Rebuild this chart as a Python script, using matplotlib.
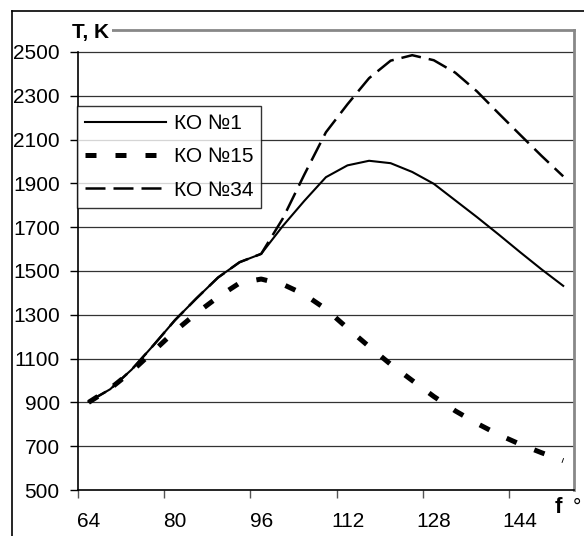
import matplotlib
matplotlib.use("Agg")
import matplotlib.pyplot as plt
import matplotlib.transforms as mtransforms
from matplotlib.lines import Line2D

plt.rcParams["font.family"] = ["Liberation Sans", "DejaVu Sans"]

# angle f, degrees
angle = [66, 70, 74, 78, 82, 86, 90, 94, 98, 102, 106, 110,
         114, 118, 122, 126, 130, 134, 138, 142, 146, 150, 154]

# temperature T, K
t_ko1 = [903, 960, 1050, 1160, 1275, 1375, 1470, 1540, 1578, 1705, 1820, 1928,
         1982, 2003, 1992, 1952, 1898, 1822, 1746, 1667, 1586, 1507, 1432]
t_ko15 = [900, 963, 1042, 1133, 1225, 1307, 1381, 1445, 1463, 1439, 1393, 1326,
          1239, 1155, 1074, 1000, 927, 861, 804, 753, 709, 670, 634]
t_ko34 = [903, 960, 1050, 1160, 1275, 1375, 1470, 1540, 1578, 1739, 1940, 2133,
          2261, 2380, 2460, 2485, 2462, 2405, 2320, 2220, 2122, 2025, 1932]

series_labels = ["КО №1", "КО №15", "КО №34"]
x_ticks = [64, 80, 96, 112, 128, 144]
y_ticks = [500, 700, 900, 1100, 1300, 1500, 1700, 1900, 2100, 2300, 2500]

W, H = 584, 536
fig = plt.figure(figsize=(W / 100, H / 100), dpi=100)
ax = fig.add_axes([77.8 / W, 1 - 490 / H, (574 - 77.8) / W, (490 - 30) / H])

for y in y_ticks[1:]:
    ax.axhline(y, color="#333333", lw=0.9, zorder=1)

ax.plot(angle, t_ko1, color="black", lw=1.5, solid_joinstyle="miter",
        label=series_labels[0], zorder=3)
ax.plot(angle, t_ko15, color="black", lw=3.6, dashes=(2.2, 3.8),
        dash_capstyle="butt", label=series_labels[1], zorder=4)
ax.plot(angle, t_ko34, color="black", lw=1.8, dashes=(8, 3.2),
        dash_capstyle="butt", label=series_labels[2], zorder=3)

ax.set_xlim(64, 156)
ax.set_ylim(500, 2600)
ax.set_xticks(x_ticks)
ax.set_yticks(y_ticks)
ax.tick_params(axis="both", direction="out", length=6, width=1, colors="black",
               labelsize=15)
ax.tick_params(axis="x", pad=10, color="#555555")
ax.tick_params(axis="y", pad=7)

# x labels sit a little right of their ticks, as in the original
shift = mtransforms.ScaledTranslation(11 / 100, 0, fig.dpi_scale_trans)
for lab in ax.get_xticklabels():
    lab.set_transform(lab.get_transform() + shift)

ax.spines["left"].set_bounds(500, 2500)
ax.spines["left"].set_color("black")
ax.spines["left"].set_linewidth(1.2)
ax.spines["bottom"].set_color("black")
ax.spines["bottom"].set_linewidth(1.2)
for s in ("top", "right"):
    ax.spines[s].set_color("#888888")
    ax.spines[s].set_linewidth(2)

fig.text(72 / W, 1 - 38 / H, "T, K", fontsize=15, fontweight="bold",
         ha="left", va="baseline",
         bbox=dict(facecolor="white", edgecolor="none", pad=2))
fig.text(555 / W, 1 - 513 / H, "f", fontsize=16, fontweight="bold",
         ha="left", va="baseline")
fig.text(573 / W, 1 - 513 / H, "°", fontsize=15, ha="left", va="baseline")

leg = ax.legend(loc="upper left", bbox_to_anchor=(76.7 / W, 1 - 106 / H),
                bbox_transform=fig.transFigure, fontsize=15, frameon=True,
                fancybox=False, shadow=False, borderaxespad=0,
                handlelength=3.9, handletextpad=0.35, labelspacing=0.68,
                borderpad=0.4)
leg.get_frame().set_edgecolor("black")
leg.get_frame().set_linewidth(1)
leg.set_zorder(5)

# outer frame (cropped on the right and bottom)
fig.add_artist(Line2D([12 / W, 12 / W], [0, 1 - 11 / H], color="black",
                      lw=1.2, transform=fig.transFigure))
fig.add_artist(Line2D([12 / W, 1], [1 - 11 / H, 1 - 11 / H], color="black",
                      lw=1.2, transform=fig.transFigure))

fig.savefig("out.png", dpi=100)
